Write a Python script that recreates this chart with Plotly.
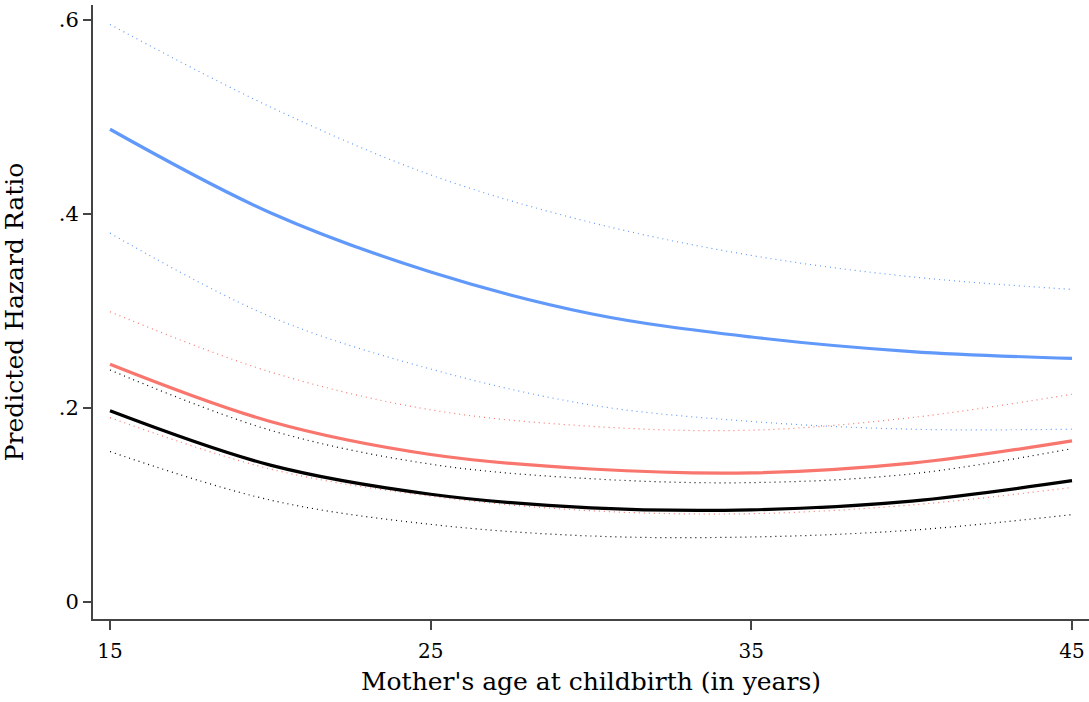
import plotly.graph_objects as go

age = [15, 20, 25, 30, 35, 40, 45]

blue_hr = [0.487, 0.401, 0.340, 0.297, 0.273, 0.258, 0.251]
blue_hi = [0.595, 0.510, 0.440, 0.391, 0.357, 0.335, 0.322]
blue_lo = [0.380, 0.294, 0.240, 0.203, 0.186, 0.178, 0.178]

red_hr = [0.245, 0.186, 0.152, 0.137, 0.133, 0.143, 0.166]
red_hi = [0.299, 0.237, 0.198, 0.181, 0.177, 0.190, 0.214]
red_lo = [0.190, 0.137, 0.109, 0.094, 0.091, 0.100, 0.118]

black_hr = [0.197, 0.141, 0.111, 0.097, 0.095, 0.104, 0.125]
black_hi = [0.239, 0.177, 0.142, 0.127, 0.123, 0.132, 0.158]
black_lo = [0.155, 0.105, 0.080, 0.068, 0.067, 0.074, 0.090]

x_ticks = [15, 25, 35, 45]
y_ticks = [0, 0.2, 0.4, 0.6]
y_ticktext = ["0", ".2", ".4", ".6"]

BLUE = "#6199FA"
RED = "#F8766D"
BLACK = "#000000"

fig = go.Figure()

def ci(y, color):
    fig.add_trace(go.Scatter(x=age, y=y, mode="lines", line=dict(color=color, width=1.2, dash="1px,4px", shape="spline", smoothing=1.0), hoverinfo="skip", showlegend=False))

def main(y, color):
    fig.add_trace(go.Scatter(x=age, y=y, mode="lines", line=dict(color=color, width=3.2, shape="spline", smoothing=1.0), showlegend=False))

ci(blue_hi, BLUE); ci(blue_lo, BLUE)
ci(red_hi, RED); ci(red_lo, RED)
ci(black_hi, BLACK); ci(black_lo, BLACK)
main(blue_hr, BLUE)
main(red_hr, RED)
main(black_hr, BLACK)

FONT = "DejaVu Serif"
fig.update_layout(
    width=1089, height=702,
    margin=dict(l=93, r=0, t=5, b=83),
    paper_bgcolor="white", plot_bgcolor="white",
    font=dict(family=FONT, size=20, color="#000"),
    xaxis=dict(range=[14.47, 45.53], tickvals=x_ticks, showgrid=False, zeroline=False, automargin=False,
               showline=True, linecolor="#444", linewidth=2, ticks="outside", ticklen=9,
               tickwidth=1.5, tickcolor="#444", tickfont=dict(family=FONT, size=20), ticklabelstandoff=4,
               title=dict(text="Mother's age at childbirth (in years)", font=dict(family=FONT, size=25), standoff=10)),
    yaxis=dict(range=[-0.0175, 0.615], tickvals=y_ticks, ticktext=y_ticktext, showgrid=False, zeroline=False, automargin=False,
               showline=True, linecolor="#444", linewidth=2, ticks="outside", ticklen=8,
               tickwidth=1.5, tickcolor="#444", tickfont=dict(family=FONT, size=21),
               title=dict(text="Predicted Hazard Ratio", font=dict(family=FONT, size=25), standoff=28)),
)

fig.write_html("out.html", config={"displayModeBar": False},
               post_script="document.body.style.margin='0px';")
